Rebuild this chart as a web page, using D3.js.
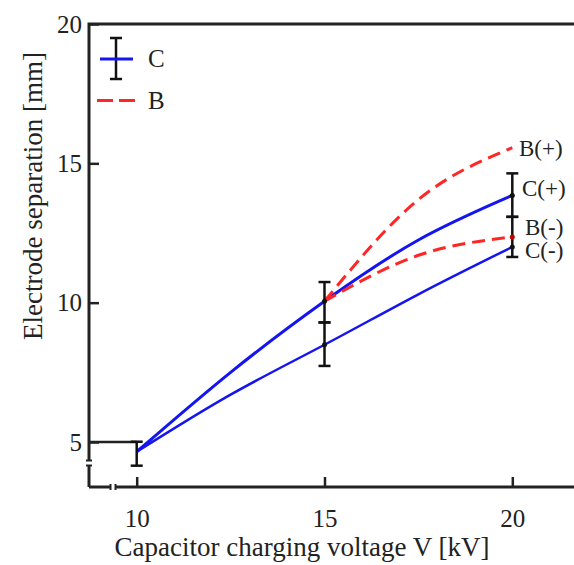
<!DOCTYPE html>
<html>
<head>
<meta charset="utf-8">
<script src="https://cdn.jsdelivr.net/npm/d3@7"></script>
<style>
  body { margin: 0; background: #fff; }
  svg text { font-family: "Liberation Serif", "DejaVu Serif", serif; fill: #222; }
</style>
</head>
<body>
<svg id="chart" width="574" height="565"></svg>
<script>
// line shapes
var voltsC = [10, 12.5, 15, 17.5, 20];
var cPlus = [4.65, 7.5, 10.05, 12.25, 13.85];
var cMinus = [4.65, 6.7, 8.49, 10.3, 12.0];
var voltsB = [15, 17.5, 20];
var bPlus = [10.05, 13.7, 15.56];
var bMinus = [10.05, 11.7, 12.36];

// measured points with error bars
var errVolts = [10, 15, 15, 20, 20];
var errMid = [4.65, 10.05, 8.49, 13.85, 12.0];
var errLow = [4.15, 9.29, 7.73, 13.08, 11.64];
var errHigh = [5.01, 10.74, 9.29, 14.64, 13.08];

var endLabels = ["B(+)", "C(+)", "B(-)", "C(-)"];
var xTicks = [10, 15, 20];
var yTicks = [5, 10, 15, 20];

var svg = d3.select("#chart"),
    width = +svg.attr("width"),
    height = +svg.attr("height");

var mLeft = 89, mTop = 24, mBottom = 487;

var x = d3.scaleLinear().domain([10, 20]).range([136.7, 512.3]);
var y = d3.scaleLinear().domain([5, 20]).range([442, 24]);

var blue = "#1515f0", red = "#ff2626";

// axes
var xAxis = svg.append("g")
    .attr("transform", "translate(0," + mBottom + ")")
    .call(d3.axisBottom(x).tickValues(xTicks).tickSizeInner(-10).tickSizeOuter(0).tickPadding(22).tickFormat(d3.format("d")));
var yAxis = svg.append("g")
    .attr("transform", "translate(" + mLeft + ",0)")
    .call(d3.axisLeft(y).tickValues(yTicks).tickSizeInner(-10).tickSizeOuter(0).tickPadding(7).tickFormat(d3.format("d")));

[xAxis, yAxis].forEach(function(a) {
    a.select(".domain").remove();
    a.selectAll("line").attr("stroke", "#222").attr("stroke-width", 2.5);
    a.selectAll("text").attr("font-size", 25).style("font-family", "Liberation Serif, serif").attr("fill", "#222");
});

// frame lines
svg.append("path")
    .attr("d", "M" + mLeft + "," + mBottom + "V" + mTop + "H" + width)
    .attr("fill", "none").attr("stroke", "#222").attr("stroke-width", 3);
svg.append("path")
    .attr("d", "M" + mLeft + "," + mBottom + "H" + width)
    .attr("fill", "none").attr("stroke", "#222").attr("stroke-width", 3);

// long tick at 5 reaching to the 10 kV point
svg.append("line")
    .attr("x1", mLeft).attr("x2", x(10))
    .attr("y1", y(5)).attr("y2", y(5))
    .attr("stroke", "#222").attr("stroke-width", 2.5);

// axis break marks
svg.append("rect").attr("x", mLeft - 3).attr("y", 461).attr("width", 6).attr("height", 4).attr("fill", "#fff");
svg.selectAll(".ybreak").data([460.5, 465.5]).enter().append("line")
    .attr("x1", mLeft - 3).attr("x2", mLeft + 3)
    .attr("y1", function(d) { return d; }).attr("y2", function(d) { return d; })
    .attr("stroke", "#222").attr("stroke-width", 2);
svg.append("rect").attr("x", 111).attr("y", mBottom - 3).attr("width", 4).attr("height", 6).attr("fill", "#fff");
svg.selectAll(".xbreak").data([110.5, 115.5]).enter().append("line")
    .attr("x1", function(d) { return d; }).attr("x2", function(d) { return d; })
    .attr("y1", mBottom - 3).attr("y2", mBottom + 3)
    .attr("stroke", "#222").attr("stroke-width", 2);

// curves
var line = d3.line()
    .x(function(d) { return x(d[0]); })
    .y(function(d) { return y(d[1]); })
    .curve(d3.curveNatural);

svg.append("path").datum(d3.zip(voltsC, cPlus))
    .attr("d", line).attr("fill", "none").attr("stroke", blue).attr("stroke-width", 3);
svg.append("path").datum(d3.zip(voltsC, cMinus))
    .attr("d", line).attr("fill", "none").attr("stroke", blue).attr("stroke-width", 2.5);
svg.append("path").datum(d3.zip(voltsB, bPlus))
    .attr("d", line).attr("fill", "none").attr("stroke", red).attr("stroke-width", 3)
    .attr("stroke-dasharray", "13,7");
svg.append("path").datum(d3.zip(voltsB, bMinus))
    .attr("d", line).attr("fill", "none").attr("stroke", red).attr("stroke-width", 3)
    .attr("stroke-dasharray", "13,7");

// error bars
var errs = d3.range(errVolts.length).map(function(i) {
    return { v: errVolts[i], m: errMid[i], lo: errLow[i], hi: errHigh[i] };
});
var eb = svg.selectAll(".err").data(errs).enter().append("g");
eb.append("line")
    .attr("x1", function(d) { return x(d.v); }).attr("x2", function(d) { return x(d.v); })
    .attr("y1", function(d) { return y(d.lo); }).attr("y2", function(d) { return y(d.hi); })
    .attr("stroke", "#111").attr("stroke-width", 2.5);
eb.selectAll(".cap").data(function(d) { return [[d.v, d.lo], [d.v, d.hi]]; }).enter().append("line")
    .attr("x1", function(d) { return x(d[0]) - 6; }).attr("x2", function(d) { return x(d[0]) + 6; })
    .attr("y1", function(d) { return y(d[1]); }).attr("y2", function(d) { return y(d[1]); })
    .attr("stroke", "#111").attr("stroke-width", 2.5);
eb.filter(function(d) { return d.v > 10; }).append("circle")
    .attr("cx", function(d) { return x(d.v); }).attr("cy", function(d) { return y(d.m); })
    .attr("r", 2.5).attr("fill", "#111");

svg.append("circle").attr("cx", x(20)).attr("cy", y(bMinus[2])).attr("r", 2.5).attr("fill", "#c00000");

// end labels
var labelX = [519, 522, 525, 525];
var labelY = [15.55, 14.1, 12.72, 11.89];
svg.selectAll(".endlab").data(endLabels).enter().append("text")
    .attr("x", function(d, i) { return labelX[i]; })
    .attr("y", function(d, i) { return y(labelY[i]); })
    .attr("dy", "0.35em")
    .attr("font-size", 23)
    .text(function(d) { return d; });

// legend
var lg = svg.append("g");
lg.append("line").attr("x1", 116).attr("x2", 116).attr("y1", 38).attr("y2", 79).attr("stroke", "#111").attr("stroke-width", 2.5);
lg.selectAll(".lcap").data([38, 79]).enter().append("line")
    .attr("x1", 110).attr("x2", 122)
    .attr("y1", function(d) { return d; }).attr("y2", function(d) { return d; })
    .attr("stroke", "#111").attr("stroke-width", 2.5);
lg.append("line").attr("x1", 100).attr("x2", 133).attr("y1", 59).attr("y2", 59).attr("stroke", blue).attr("stroke-width", 3);
lg.append("line").attr("x1", 97).attr("x2", 136).attr("y1", 100.5).attr("y2", 100.5)
    .attr("stroke", red).attr("stroke-width", 3).attr("stroke-dasharray", "16,6");
lg.append("text").attr("x", 148).attr("y", 58).attr("dy", "0.35em").attr("font-size", 25).text("C");
lg.append("text").attr("x", 148).attr("y", 100).attr("dy", "0.35em").attr("font-size", 25).text("B");

// axis titles
svg.append("text")
    .attr("x", 302).attr("y", 556)
    .attr("text-anchor", "middle")
    .attr("font-size", 27)
    .text("Capacitor charging voltage V [kV]");
svg.append("text")
    .attr("transform", "translate(42,196) rotate(-90)")
    .attr("text-anchor", "middle")
    .attr("font-size", 27)
    .text("Electrode separation [mm]");
</script>
</body>
</html>
